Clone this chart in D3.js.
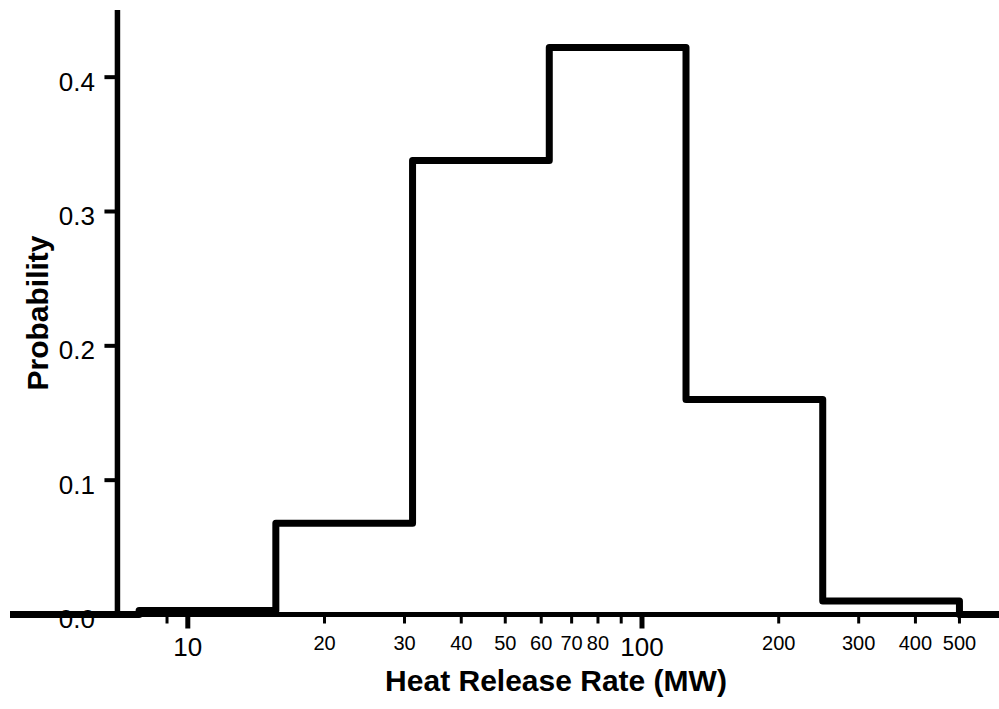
<!DOCTYPE html>
<html>
<head>
<meta charset="utf-8">
<script src="https://cdn.jsdelivr.net/npm/d3@7"></script>
<style>
  body { margin: 0; background: #fff; }
  svg { display: block; font-family: "Liberation Sans", Arial, Helvetica, sans-serif; }
</style>
</head>
<body>
<div id="chart"></div>
<script>
// bin edges (MW) and probability for each bin
const binEdges = [7.8125, 15.625, 31.25, 62.5, 125, 250, 500];
const probs = [0.003, 0.068, 0.338, 0.422, 0.160, 0.010];

const yTicks = [0.0, 0.1, 0.2, 0.3, 0.4];
const xMajorTicks = [10, 100];
const xMinorTicks = [9, 20, 30, 40, 50, 60, 70, 80, 90, 200, 300, 400, 500];
const xMinorLabels = [20, 30, 40, 50, 60, 70, 80, 200, 300, 400, 500];

const width = 999;
const height = 709;

const svg = d3.select("#chart").append("svg")
    .attr("width", width)
    .attr("height", height);

// scales
const xScale = d3.scaleLog().domain([4.06, 611]).range([10, 999]);
const yScale = d3.scaleLinear().domain([0, 0.45]).range([614.5, 10]);

const yAxisAt = xScale(7);
const y0 = yScale(0);

// y tick labels (drawn first, the axis line sits over "0.0")
svg.append("g")
  .selectAll("text")
  .data(yTicks)
  .join("text")
    .attr("x", 95)
    .attr("y", d => yScale(d))
    .attr("dy", 13.5)
    .attr("text-anchor", "end")
    .attr("font-size", 26)
    .text(d => d.toFixed(1));

// y ticks
svg.append("g")
  .selectAll("line")
  .data(yTicks.filter(d => d > 0))
  .join("line")
    .attr("x1", yAxisAt - 13)
    .attr("x2", yAxisAt)
    .attr("y1", d => yScale(d))
    .attr("y2", d => yScale(d))
    .attr("stroke", "#000")
    .attr("stroke-width", 4);

// y axis line
svg.append("line")
  .attr("x1", yAxisAt).attr("x2", yAxisAt)
  .attr("y1", yScale(0.45)).attr("y2", y0)
  .attr("stroke", "#000")
  .attr("stroke-width", 5.5);

// x ticks
svg.append("g")
  .selectAll("line")
  .data(xMinorTicks)
  .join("line")
    .attr("x1", d => xScale(d)).attr("x2", d => xScale(d))
    .attr("y1", y0).attr("y2", y0 + 9)
    .attr("stroke", "#000")
    .attr("stroke-width", 3);

svg.append("g")
  .selectAll("line")
  .data(xMajorTicks)
  .join("line")
    .attr("x1", d => xScale(d)).attr("x2", d => xScale(d))
    .attr("y1", y0).attr("y2", y0 + 14)
    .attr("stroke", "#000")
    .attr("stroke-width", 5);

// x tick labels
svg.append("g")
  .selectAll("text")
  .data(xMinorLabels)
  .join("text")
    .attr("x", d => xScale(d))
    .attr("y", 650)
    .attr("text-anchor", "middle")
    .attr("font-size", 20)
    .text(d => d);

svg.append("g")
  .selectAll("text")
  .data(xMajorTicks)
  .join("text")
    .attr("x", d => xScale(d))
    .attr("y", 656)
    .attr("text-anchor", "middle")
    .attr("font-size", 26)
    .text(d => d);

// x axis line
svg.append("line")
  .attr("x1", xScale.range()[0]).attr("x2", xScale.range()[1])
  .attr("y1", y0).attr("y2", y0)
  .attr("stroke", "#000")
  .attr("stroke-width", 5);

// histogram outline
const [xMin, xMax] = xScale.domain();
const steps = [{ x: xMin, p: 0 }]
  .concat(probs.map((p, i) => ({ x: binEdges[i], p: p })))
  .concat([{ x: binEdges[binEdges.length - 1], p: 0 }, { x: xMax, p: 0 }]);

const line = d3.line()
  .x(d => xScale(d.x))
  .y(d => yScale(d.p))
  .curve(d3.curveStepAfter);

svg.append("path")
  .datum(steps)
  .attr("d", line)
  .attr("fill", "none")
  .attr("stroke", "#000")
  .attr("stroke-width", 7)
  .attr("stroke-linejoin", "round");

// axis titles
svg.append("text")
  .attr("x", 556)
  .attr("y", 691)
  .attr("text-anchor", "middle")
  .attr("font-size", 30)
  .attr("font-weight", "bold")
  .text("Heat Release Rate (MW)");

svg.append("text")
  .attr("transform", "translate(48,313) rotate(-90)")
  .attr("text-anchor", "middle")
  .attr("font-size", 30)
  .attr("font-weight", "bold")
  .text("Probability");
</script>
</body>
</html>
